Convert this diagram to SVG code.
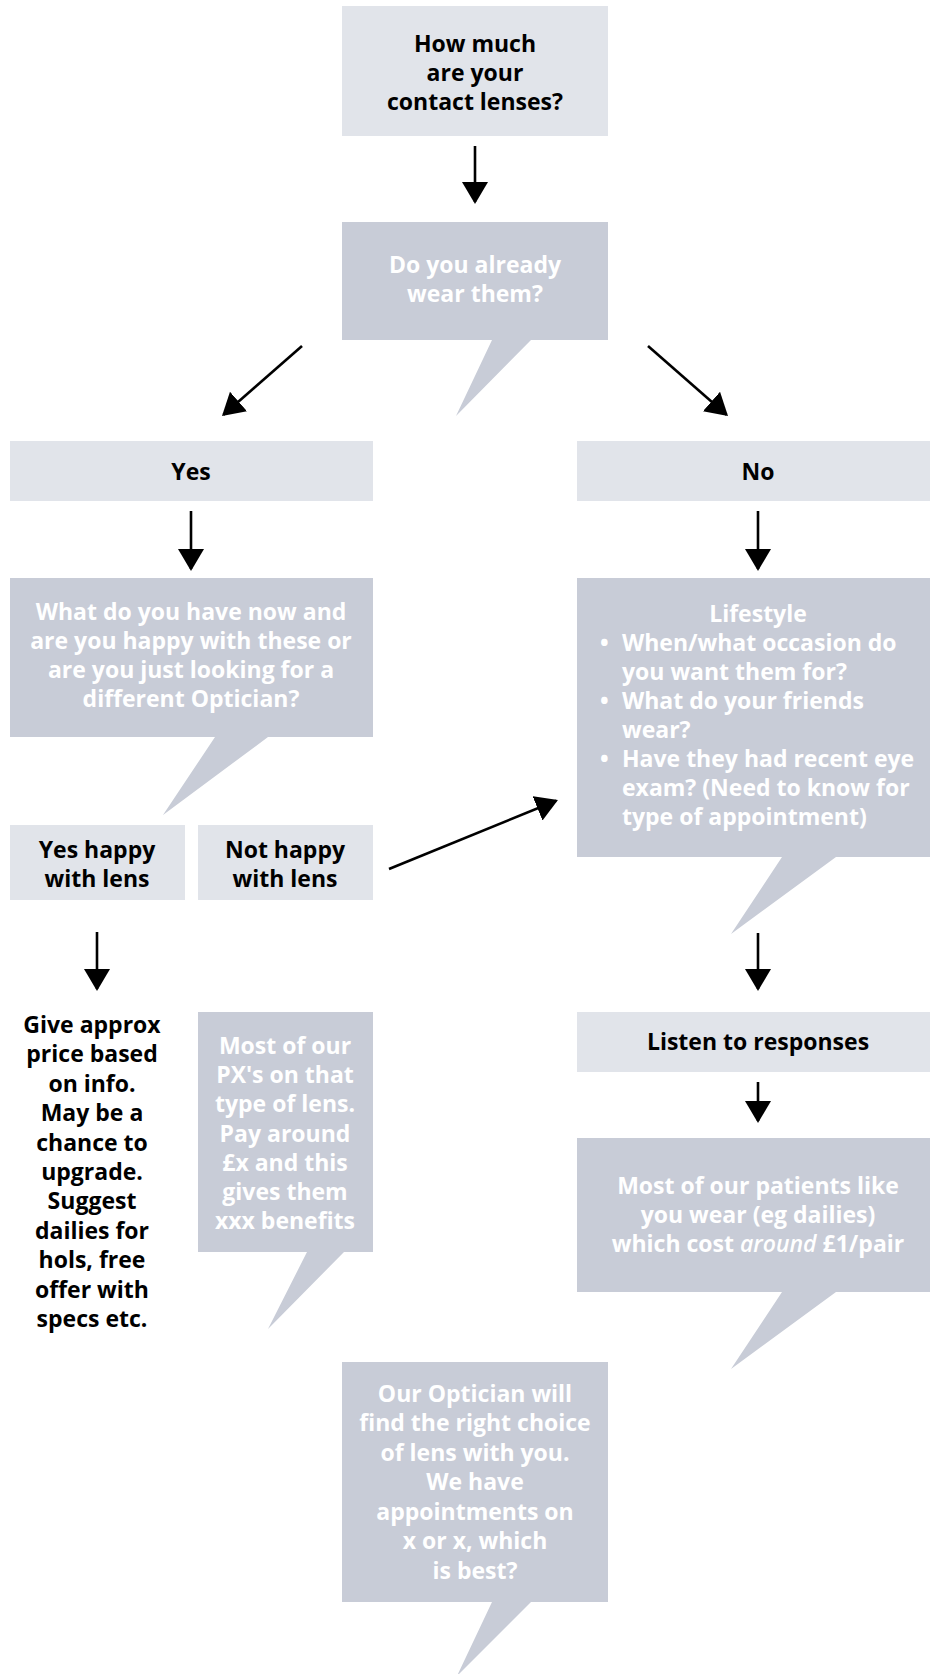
<svg xmlns="http://www.w3.org/2000/svg" width="930" height="1674" viewBox="0 0 930 1674">
<defs>
<style>
.light{fill:#e1e4ea}
.dark{fill:#c8ccd7}
.t{font-family:"Open Sans","Noto Sans","DejaVu Sans",sans-serif;font-weight:700;font-size:23px;text-anchor:middle}
.b{fill:#000}
.w{fill:#ffffff}
.l{text-anchor:start}
.conn line{stroke:#000;stroke-width:2.6;fill:none;marker-end:url(#ah)}
</style>
<marker id="ah" markerUnits="userSpaceOnUse" markerWidth="24" markerHeight="28" refX="20" refY="13" orient="auto">
<path d="M0,0 L22,13 L0,26 Z" fill="#000"/>
</marker>
</defs>
<rect width="930" height="1674" fill="#fff"/>

<g id="n-how-much">
<rect class="light" x="342" y="6" width="266" height="130"/>
<text class="t b"><tspan x="475" y="52">How much</tspan><tspan x="475" y="81">are your</tspan><tspan x="475" y="110">contact lenses?</tspan></text>
</g>

<g id="n-already">
<path class="dark" d="M342,222 H608 V340 H531 L456,416 L492,340 H342 Z"/>
<text class="t w"><tspan x="475" y="273">Do you already</tspan><tspan x="475" y="302">wear them?</tspan></text>
</g>

<g id="n-yes">
<rect class="light" x="10" y="441" width="363" height="60"/>
<text class="t b" x="191" y="480">Yes</text>
</g>

<g id="n-no">
<rect class="light" x="577" y="441" width="363" height="60"/>
<text class="t b" x="758" y="480">No</text>
</g>

<g id="n-what">
<path class="dark" d="M10,578 H373 V737 H268 L163,815 L215,737 H10 Z"/>
<text class="t w"><tspan x="191" y="620">What do you have now and</tspan><tspan x="191" y="649">are you happy with these or</tspan><tspan x="191" y="678">are you just looking for a</tspan><tspan x="191" y="707">different Optician?</tspan></text>
</g>

<g id="n-lifestyle">
<path class="dark" d="M577,578 H940 V857 H836 L731,934 L782,857 H577 Z"/>
<text class="t w" x="758" y="622">Lifestyle</text>
<text class="t w l"><tspan x="600" y="651">•</tspan><tspan x="600" y="709">•</tspan><tspan x="600" y="767">•</tspan></text>
<text class="t w l"><tspan x="622" y="651">When/what occasion do</tspan><tspan x="622" y="680">you want them for?</tspan><tspan x="622" y="709">What do your friends</tspan><tspan x="622" y="738">wear?</tspan><tspan x="622" y="767">Have they had recent eye</tspan><tspan x="622" y="796">exam? (Need to know for</tspan><tspan x="622" y="825">type of appointment)</tspan></text>
</g>

<g id="n-yes-happy">
<rect class="light" x="10" y="825" width="175" height="75"/>
<text class="t b"><tspan x="97" y="858">Yes happy</tspan><tspan x="97" y="887">with lens</tspan></text>
</g>

<g id="n-not-happy">
<rect class="light" x="198" y="825" width="175" height="75"/>
<text class="t b"><tspan x="285" y="858">Not happy</tspan><tspan x="285" y="887">with lens</tspan></text>
</g>

<g id="n-give-approx">
<text class="t b"><tspan x="92" y="1033">Give approx</tspan><tspan x="92" y="1062">price based</tspan><tspan x="92" y="1092">on info.</tspan><tspan x="92" y="1121">May be a</tspan><tspan x="92" y="1151">chance to</tspan><tspan x="92" y="1180">upgrade.</tspan><tspan x="92" y="1209">Suggest</tspan><tspan x="92" y="1239">dailies for</tspan><tspan x="92" y="1268">hols, free</tspan><tspan x="92" y="1298">offer with</tspan><tspan x="92" y="1327">specs etc.</tspan></text>
</g>

<g id="n-px">
<path class="dark" d="M198,1012 H373 V1252 H344 L268,1329 L307,1252 H198 Z"/>
<text class="t w"><tspan x="285" y="1054">Most of our</tspan><tspan x="285" y="1083">PX's on that</tspan><tspan x="285" y="1112">type of lens.</tspan><tspan x="285" y="1142">Pay around</tspan><tspan x="285" y="1171">£x and this</tspan><tspan x="285" y="1200">gives them</tspan><tspan x="285" y="1229">xxx benefits</tspan></text>
</g>

<g id="n-listen">
<rect class="light" x="577" y="1012" width="363" height="60"/>
<text class="t b" x="758" y="1050">Listen to responses</text>
</g>

<g id="n-patients">
<path class="dark" d="M577,1138 H940 V1292 H836 L731,1369 L782,1292 H577 Z"/>
<text class="t w"><tspan x="758" y="1194">Most of our patients like</tspan><tspan x="758" y="1223">you wear (eg dailies)</tspan><tspan x="758" y="1252">which cost <tspan font-style="italic" font-weight="600">around</tspan> £1/pair</tspan></text>
</g>

<g id="n-optician">
<path class="dark" d="M342,1362 H608 V1602 H531 L457,1676 L492,1602 H342 Z"/>
<text class="t w"><tspan x="475" y="1402">Our Optician will</tspan><tspan x="475" y="1431">find the right choice</tspan><tspan x="475" y="1461">of lens with you.</tspan><tspan x="475" y="1490">We have</tspan><tspan x="475" y="1520">appointments on</tspan><tspan x="475" y="1549">x or x, which</tspan><tspan x="475" y="1579">is best?</tspan></text>
</g>

<g id="connectors" class="conn">
<line x1="475" y1="146" x2="475" y2="202"/>
<line x1="302" y1="346" x2="223.5" y2="414.7"/>
<line x1="648" y1="346" x2="726.5" y2="414.7"/>
<line x1="191" y1="511" x2="191" y2="569"/>
<line x1="758" y1="511" x2="758" y2="569"/>
<line x1="389" y1="869" x2="556.1" y2="800.8"/>
<line x1="97" y1="932" x2="97" y2="989"/>
<line x1="758" y1="933" x2="758" y2="989"/>
<line x1="758" y1="1082" x2="758" y2="1121"/>
</g>
</svg>
